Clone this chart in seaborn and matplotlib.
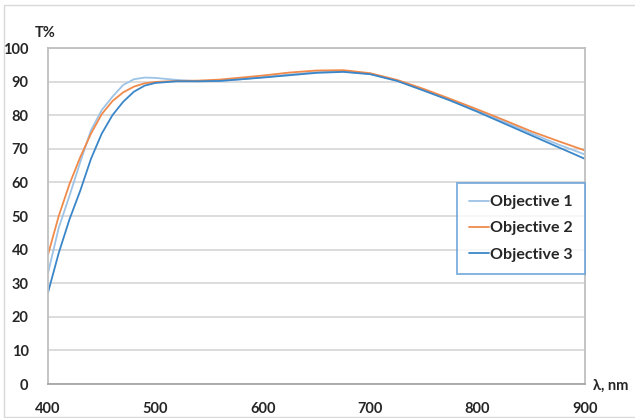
import numpy as np
import pandas as pd
import matplotlib
matplotlib.use("Agg")
import matplotlib.pyplot as plt
import seaborn as sns
from matplotlib.patches import Rectangle

# wavelength grid, nm
wavelength = [400, 410, 420, 430, 440, 450, 460, 470, 480, 490, 500, 520, 540, 560,
              580, 600, 625, 650, 675, 700, 725, 750, 775, 800, 825, 850, 875, 900]

# transmission, %
objective_1 = [33.0, 46.5, 56.0, 66.0, 75.5, 81.5, 85.5, 89.0, 90.7, 91.2, 91.1, 90.5, 90.1, 90.2,
               90.7, 91.3, 92.1, 92.8, 93.0, 92.3, 90.3, 87.5, 84.5, 81.3, 78.0, 74.6, 71.3, 68.3]
objective_2 = [38.5, 50.0, 59.5, 67.5, 74.5, 80.3, 84.2, 86.8, 88.5, 89.5, 89.9, 90.2, 90.3, 90.6,
               91.2, 91.8, 92.7, 93.3, 93.4, 92.5, 90.5, 87.8, 84.8, 81.7, 78.5, 75.2, 72.3, 69.5]
objective_3 = [27.2, 39.0, 49.0, 57.5, 67.0, 74.5, 80.0, 84.0, 87.0, 88.8, 89.6, 90.1, 90.1, 90.2,
               90.7, 91.2, 91.9, 92.6, 92.9, 92.2, 90.2, 87.3, 84.3, 81.0, 77.5, 74.0, 70.5, 67.0]

series_names = ["Objective 1", "Objective 2", "Objective 3"]
colors = ["#9DC3E6", "#F08A4B", "#3A86C8"]

sns.set_style("white")
plt.rcParams["font.family"] = ["Lato", "DejaVu Sans"]

df = pd.DataFrame({
    "wl": wavelength * 3,
    "T": objective_1 + objective_2 + objective_3,
    "obj": [n for n in series_names for _ in wavelength],
})

fig = plt.figure(figsize=(6.35, 4.18), dpi=100)
ax = fig.add_axes([48 / 635, 1 - 384 / 418, 537 / 635, 336 / 418])

# outer frame of the chart
fig.patches.append(Rectangle((4 / 635, 1 / 418), 1.0, 1 - 6 / 418, transform=fig.transFigure,
                             fill=False, edgecolor="#D9D9D9", linewidth=1.0))

sns.lineplot(data=df, x="wl", y="T", hue="obj", palette=colors, linewidth=1.3, ax=ax)

ax.set_xlim(400, 900)
ax.set_ylim(0, 100)
ax.set_xticks(range(400, 901, 100))
ax.set_yticks(range(0, 101, 10))
ax.yaxis.grid(True, color="#D9D9D9", linewidth=1.3)
ax.set_axisbelow(True)
ax.set_xlabel("")
ax.set_ylabel("")

for s in ["left", "top", "right"]:
    ax.spines[s].set_color("#BFBFBF")
    ax.spines[s].set_linewidth(1.3)
ax.spines["bottom"].set_color("#A6A6A6")
ax.spines["bottom"].set_linewidth(1.3)

ax.tick_params(axis="y", length=4, width=1.3, color="#D9D9D9", pad=10,
               labelsize=10.5, labelcolor="#262626")
ax.tick_params(axis="x", length=5, width=1.0, color="#BFBFBF", pad=8,
               labelsize=10.5, labelcolor="#262626")
for lab in ax.get_xticklabels() + ax.get_yticklabels():
    lab.set_fontweight("bold")

fig.text(45 / 635, 1 - 33 / 418, "T%", ha="center", va="center",
         fontsize=10.5, fontweight="bold", color="#262626")
fig.text(611 / 635, 1 - 386 / 418, "λ, nm", ha="center", va="center",
         fontsize=10.5, fontweight="bold", color="#262626")

leg = ax.legend(loc="upper right", bbox_to_anchor=(1.0, 0.598), borderaxespad=0,
                frameon=True, fancybox=False, handlelength=1.3, handletextpad=0.05,
                labelspacing=0.75, borderpad=0.75, prop={"weight": "bold", "size": 11.5})
leg.get_frame().set_edgecolor("#5B9BD5")
leg.get_frame().set_linewidth(1.3)
for t in leg.get_texts():
    t.set_color("#262626")

fig.savefig("out.png", dpi=100)
